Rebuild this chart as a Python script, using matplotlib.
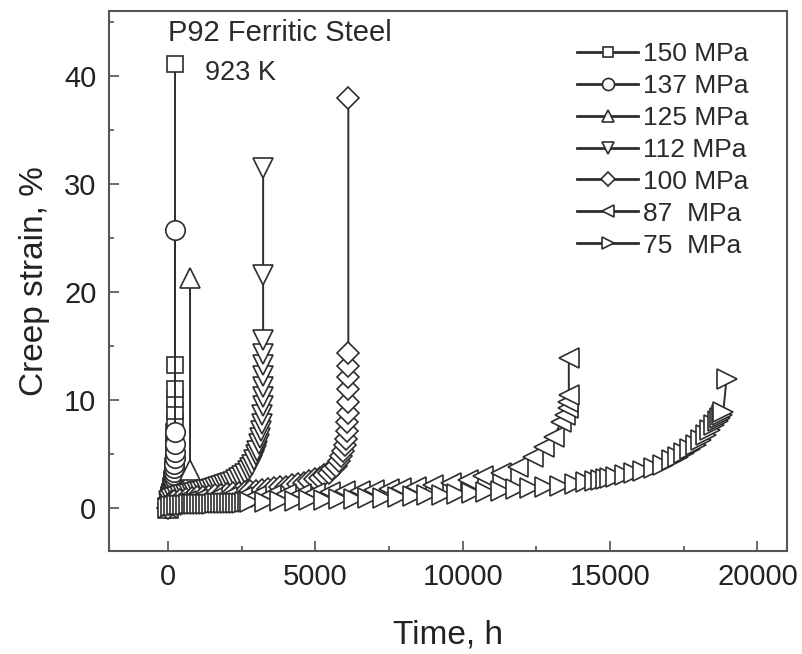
import matplotlib
matplotlib.use("Agg")
import matplotlib.pyplot as plt
from matplotlib.ticker import MultipleLocator

plt.rcParams['font.family'] = ['Liberation Sans', 'DejaVu Sans']

# Creep curves, P92 steel at 923 K (time in h, strain in %)
t150 = [0, 5, 10, 20, 30, 40, 50, 60, 70, 80, 90, 100, 110, 120, 130, 140, 150, 160, 170, 180,
        190, 200, 210, 218, 225, 230, 234, 237, 240, 240]
s150 = [0, 0.4, 0.6, 0.8, 0.95, 1.05, 1.15, 1.25, 1.35, 1.45, 1.55, 1.7, 1.85, 2.0, 2.2, 2.45, 2.7,
        3.0, 3.4, 3.9, 4.5, 5.2, 6.0, 7.0, 8.0, 9.0, 10.1, 11.0, 13.2, 41.1]

t137 = [0, 5, 10, 20, 30, 40, 50, 60, 70, 80, 90, 100, 110, 120, 130, 140, 150, 160, 170, 180,
        190, 200, 208, 215, 222, 228, 232, 236, 240, 240]
s137 = [0, 0.3, 0.5, 0.7, 0.85, 0.95, 1.05, 1.15, 1.25, 1.35, 1.45, 1.55, 1.65, 1.75, 1.85, 1.95,
        2.1, 2.25, 2.4, 2.6, 2.8, 3.05, 3.35, 3.7, 4.1, 4.6, 5.2, 5.9, 7.0, 25.7]

t125 = [0, 10, 25, 50, 75, 100, 150, 200, 250, 300, 350, 400, 450, 500, 550, 600, 650, 690, 720,
        740, 750, 750]
s125 = [0, 0.3, 0.5, 0.7, 0.8, 0.9, 1.0, 1.1, 1.2, 1.3, 1.4, 1.5, 1.6, 1.7, 1.8, 1.9, 2.05, 2.2,
        2.45, 2.8, 3.5, 21.3]

t112 = [0, 20, 50, 100, 200, 300, 400, 500, 600, 700, 800, 900, 1000, 1100, 1200, 1300, 1400,
        1500, 1600, 1700, 1800, 1900, 2000, 2100, 2200, 2300, 2400, 2500, 2600, 2700, 2780, 2850,
        2920, 2980, 3030, 3080, 3120, 3150, 3175, 3195, 3210, 3220, 3226, 3230, 3230, 3230, 3230,
        3230, 3230]
s112 = [0, 0.4, 0.6, 0.8, 0.95, 1.02, 1.08, 1.14, 1.2, 1.26, 1.32, 1.38, 1.44, 1.5, 1.56, 1.62,
        1.68, 1.75, 1.82, 1.9, 1.98, 2.07, 2.17, 2.28, 2.4, 2.55, 2.72, 2.92, 3.15, 3.42, 3.7, 4.0,
        4.4, 4.85, 5.3, 5.9, 6.5, 7.1, 7.8, 8.6, 9.4, 10.3, 11.2, 12.2, 13.2, 14.2, 15.5, 21.6, 31.5]

t100 = [0, 50, 100, 200, 400, 600, 800, 1000, 1200, 1400, 1600, 1800, 2000, 2200, 2400, 2600,
        2800, 3000, 3200, 3400, 3600, 3800, 4000, 4200, 4400, 4600, 4800, 5000, 5150, 5300, 5450,
        5580, 5700, 5800, 5880, 5950, 6000, 6040, 6070, 6090, 6105, 6115, 6120, 6120, 6120, 6120,
        6120]
s100 = [0, 0.35, 0.5, 0.65, 0.75, 0.83, 0.9, 0.97, 1.03, 1.09, 1.15, 1.21, 1.27, 1.33, 1.39,
        1.45, 1.51, 1.58, 1.65, 1.72, 1.8, 1.88, 1.97, 2.07, 2.18, 2.3, 2.45, 2.62, 2.8, 3.0, 3.25,
        3.55, 3.9, 4.3, 4.75, 5.25, 5.8, 6.4, 7.1, 7.9, 8.8, 9.8, 11.0, 12.1, 13.1, 14.3, 37.9]

t87 = [0, 100, 300, 600, 1000, 1500, 2000, 2500, 3000, 3500, 4000, 4500, 5000, 5500, 6000, 6500,
       7000, 7500, 7900, 8400, 9000, 9600, 10170, 10700, 11300, 11870, 12400, 12750, 13100, 13330,
       13480, 13560, 13580, 13600, 13600]
s87 = [0, 0.3, 0.5, 0.65, 0.78, 0.88, 0.96, 1.03, 1.1, 1.17, 1.24, 1.3, 1.37, 1.44, 1.51, 1.58,
       1.65, 1.72, 1.8, 1.92, 2.1, 2.3, 2.6, 2.9, 3.2, 3.8, 4.7, 5.6, 6.6, 7.9, 8.6, 9.2, 9.8, 10.4,
       13.9]

t75 = [0, 100, 200, 300, 400, 500, 600, 700, 800, 900, 1000, 1100, 1200, 1300, 1400, 1500, 1600,
       1700, 1800, 1900, 2000, 2100, 2200, 2300, 2400, 2500, 2600, 2700, 2800, 3300, 3800, 4300,
       4800, 5300, 5800, 6300, 6800, 7300, 7800, 8300, 8800, 9300, 9800, 10300, 10800, 11300,
       11800, 12300, 12800, 13300, 13800, 14200, 14500, 14700, 14850, 15000, 15200, 15500, 15800,
       16100, 16500, 16800, 17100, 17300, 17500, 17700, 17900, 18100, 18250, 18400, 18540, 18650,
       18740, 18800, 18840, 18950]
s75 = [0, 0.12, 0.18, 0.22, 0.25, 0.27, 0.29, 0.31, 0.32, 0.33, 0.34, 0.35, 0.36, 0.37, 0.38,
       0.39, 0.4, 0.41, 0.42, 0.43, 0.44, 0.45, 0.46, 0.47, 0.48, 0.49, 0.5, 0.51, 0.52, 0.56, 0.6,
       0.64, 0.68, 0.72, 0.77, 0.82, 0.88, 0.94, 1.0, 1.07, 1.14, 1.22, 1.3, 1.4, 1.5, 1.6, 1.7,
       1.8, 1.92, 2.05, 2.2, 2.35, 2.48, 2.6, 2.68, 2.76, 2.88, 3.05, 3.25, 3.45, 3.7, 4.0, 4.4,
       4.7, 5.1, 5.45, 5.85, 6.3, 6.7, 7.2, 7.7, 8.0, 8.3, 8.6, 8.9, 11.9]

series = [
    (t150, s150, 's', 11, '150 MPa'),
    (t137, s137, 'o', 14, '137 MPa'),
    (t125, s125, '^', 14, '125 MPa'),
    (t112, s112, 'v', 14, '112 MPa'),
    (t100, s100, 'D', 11, '100 MPa'),
    (t87, s87, '<', 14, '87  MPa'),
    (t75, s75, '>', 14, '75  MPa'),
]

ink = '#2e2e2e'

fig = plt.figure(figsize=(8.03, 6.54), dpi=100)
ax = fig.add_axes([0.1357, 0.1575, 0.8443, 0.8257])

for t, s, m, ms, lab in series:
    ax.plot(t, s, marker=m, markersize=ms, markerfacecolor='white', markeredgecolor=ink,
            markeredgewidth=1.2, color=ink, linewidth=1.4, label=lab)

ax.set_xlim(-2000, 21000)
ax.set_ylim(-4, 46)
ax.xaxis.set_major_locator(MultipleLocator(5000))
ax.xaxis.set_minor_locator(MultipleLocator(2500))
ax.yaxis.set_major_locator(MultipleLocator(10))
ax.yaxis.set_minor_locator(MultipleLocator(5))
ax.tick_params(which='both', direction='in', colors='#444444', labelcolor='#222222', width=1.1)
ax.tick_params(which='major', length=7, labelsize=21)
ax.tick_params(which='minor', length=3.5)
ax.tick_params(axis='x', pad=9)
ax.tick_params(axis='y', pad=9)
for sp in ax.spines.values():
    sp.set_color('#555555')
    sp.set_linewidth(1.5)

ax.set_xlabel('Time, h', fontsize=24, color='#222222', labelpad=20)
ax.set_ylabel('Creep strain, %', fontsize=24, color='#222222', labelpad=10)

ax.text(0.087, 0.959, 'P92 Ferritic Steel', transform=ax.transAxes, fontsize=21,
        color='#2a2a2a', va='center', ha='left')
ax.text(0.141, 0.885, '923 K', transform=ax.transAxes, fontsize=19.5,
        color='#2a2a2a', va='center', ha='left')

leg = ax.legend(loc='upper left', bbox_to_anchor=(0.675, 0.962), frameon=False, fontsize=19,
                markerscale=0.62, handlelength=2.3, handletextpad=0.2, labelspacing=0.3,
                borderaxespad=0)
for line in leg.get_lines():
    line.set_linewidth(2.0)
for txt in leg.get_texts():
    txt.set_color('#2a2a2a')

fig.savefig('out.png', dpi=100)
